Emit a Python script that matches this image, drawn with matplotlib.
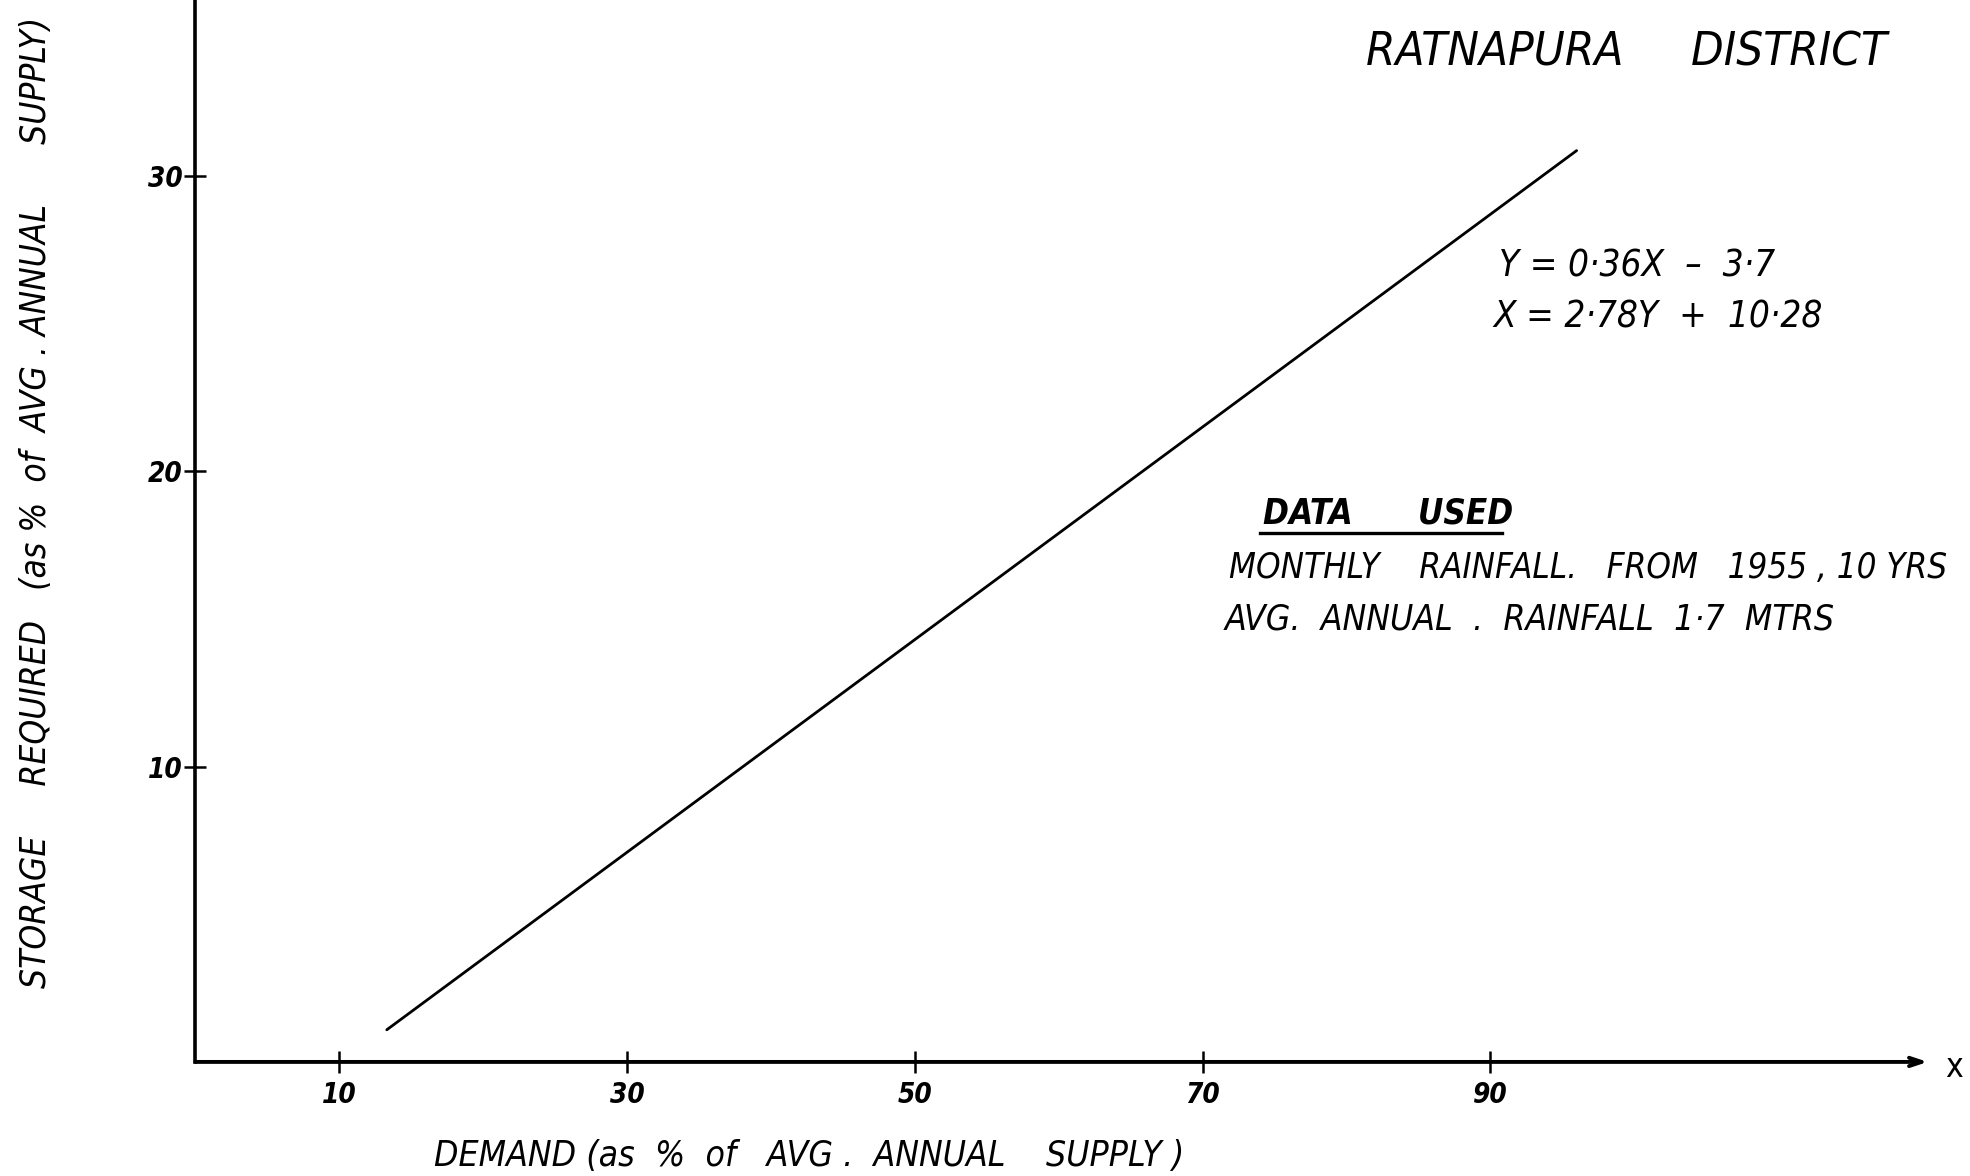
import matplotlib
matplotlib.use("Agg")
import matplotlib.pyplot as plt

# Fitted relation between demand and storage
slope = 0.36
intercept = -3.7
demand_range = [13.3, 96.0]
storage_fit = [slope * x + intercept for x in demand_range]

x_ticks = [10, 30, 50, 70, 90]
y_ticks = [10, 20, 30]

title = "RATNAPURA     DISTRICT"
eq_lines = ["Y = 0·36X  –  3·7", "X = 2·78Y  +  10·28"]
data_head = "DATA      USED"
data_lines = ["MONTHLY    RAINFALL.   FROM   1955 , 10 YRS",
              "AVG.  ANNUAL  .  RAINFALL  1·7  MTRS"]
x_label = "DEMAND (as  %  of   AVG .  ANNUAL    SUPPLY )"
y_label = "STORAGE     REQUIRED   (as %  of  AVG . ANNUAL      SUPPLY)"

plt.rcParams["font.family"] = ["DejaVu Sans"]
font = dict(family="DejaVu Sans", style="italic", stretch="condensed", color="black")

fig = plt.figure(figsize=(19.7, 11.76), dpi=100)
ax = fig.add_axes([0.0992, 0.097, 0.891, 0.903])
ax.set_xlim(0, 122)
ax.set_ylim(0, 35.96)

ax.plot(demand_range, storage_fit, color="black", lw=2.0, solid_capstyle="round")

for s in ["top", "right", "bottom"]:
    ax.spines[s].set_visible(False)
ax.spines["left"].set_linewidth(2.6)

# x axis drawn as an arrow
ax.annotate("", xy=(120.4, 0), xytext=(0, 0), xycoords="data",
            arrowprops=dict(arrowstyle="->,head_length=0.9,head_width=0.3",
                            lw=2.8, color="black", shrinkA=0, shrinkB=0),
            annotation_clip=False)
ax.text(121.6, -0.2, "x", fontsize=24, va="center", ha="left",
        family="DejaVu Sans", stretch="condensed", color="black")

ax.set_xticks(x_ticks)
ax.set_yticks(y_ticks)
ax.set_xticklabels([str(v) for v in x_ticks], fontsize=20, fontweight="bold", **font)
ax.set_yticklabels([str(v) for v in y_ticks], fontsize=20, fontweight="bold", **font)
ax.tick_params(axis="both", direction="inout", length=16, width=1.8, colors="black")
ax.tick_params(axis="x", pad=6)
ax.tick_params(axis="y", pad=1)

fig.text(1627 / 1970, 1 - 53 / 1176, title, fontsize=34, ha="center", va="center", **font)

fig.text(1499 / 1970, 1 - 266 / 1176, eq_lines[0], fontsize=26.5, ha="left", va="center", **font)
fig.text(1493 / 1970, 1 - 317 / 1176, eq_lines[1], fontsize=26.5, ha="left", va="center", **font)

fig.text(1263 / 1970, 1 - 513 / 1176, data_head, fontsize=25, fontweight="bold",
         ha="left", va="center", **font)
fig.add_artist(plt.Line2D([1260 / 1970, 1502 / 1970], [1 - 533 / 1176, 1 - 533 / 1176],
                          color="black", lw=2.4))
fig.text(1229 / 1970, 1 - 568 / 1176, data_lines[0], fontsize=25, ha="left", va="center", **font)
fig.text(1225 / 1970, 1 - 619 / 1176, data_lines[1], fontsize=25.5, ha="left", va="center", **font)

fig.text(809 / 1970, 1 - 1156 / 1176, x_label, fontsize=25.5, ha="center", va="center", **font)
fig.text(36 / 1970, 1 - 502 / 1176, y_label, fontsize=25.3, ha="center", va="center",
         rotation=90, **font)

fig.savefig("out.png", dpi=100, facecolor="white")
